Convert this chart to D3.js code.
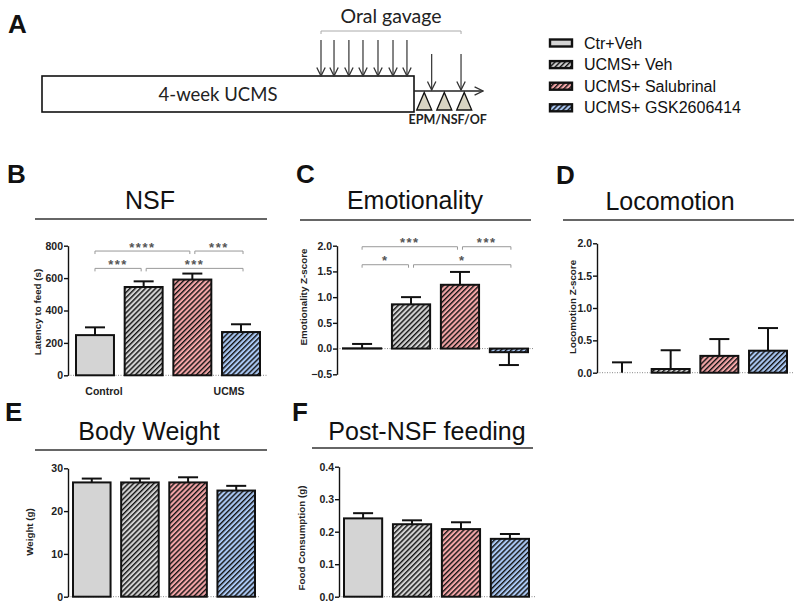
<!DOCTYPE html>
<html><head><meta charset="utf-8">
<script src="https://cdn.jsdelivr.net/npm/d3@7"></script>
<style>body{margin:0;background:#fff}svg{display:block}</style>
</head><body><svg id="c" width="800" height="607"></svg>
<script>
// ---------- DATA ----------
const groups = ["Ctr+Veh", "UCMS+ Veh", "UCMS+ Salubrinal", "UCMS+ GSK2606414"];
const xGroupLabels = ["Control", "UCMS"];

const nsfMean  = [248, 545, 591, 267];
const nsfSem   = [48, 35, 37, 48];
const nsfTicks = [0, 200, 400, 600, 800];
const nsfSig   = [
  {from: 0, to: 2, label: "****", y: 767},
  {from: 2, to: 3, label: "***",  y: 767},
  {from: 0, to: 1, label: "***",  y: 660},
  {from: 1, to: 3, label: "***",  y: 660}
];

const emoMean  = [0.005, 0.86, 1.24, -0.07];
const emoSem   = [0.085, 0.14, 0.25, 0.25];
const emoTicks = [-0.5, 0.0, 0.5, 1.0, 1.5, 2.0];
const emoSig   = [
  {from: 0, to: 2, label: "***", y: 1.98},
  {from: 2, to: 3, label: "***", y: 1.98},
  {from: 0, to: 1, label: "*",   y: 1.63},
  {from: 1, to: 3, label: "*",   y: 1.63}
];

const locoMean  = [0, 0.057, 0.26, 0.34];
const locoSem   = [0.16, 0.29, 0.26, 0.35];
const locoTicks = [0.0, 0.5, 1.0, 1.5, 2.0];

const bwMean  = [26.7, 26.7, 26.7, 24.8];
const bwSem   = [0.9, 0.9, 1.2, 1.1];
const bwTicks = [0, 10, 20, 30];

const foodMean  = [0.241, 0.223, 0.208, 0.178];
const foodSem   = [0.016, 0.012, 0.021, 0.015];
const foodTicks = [0.0, 0.1, 0.2, 0.3, 0.4];

// timeline (days) for panel A
const ucmsDays = [0, 28];
const gavageDays = [21.0, 21.98, 23.1, 24.16, 25.29, 26.42, 27.47];
const lateGavageDays = [29.33, 31.54];
const testDays = [28.77, 30.28, 31.78];
const timelineEnd = 33.2;

// ---------- STYLE ----------
const svg = d3.select("#c");
const SANS = "'Liberation Sans', Arial, Helvetica, sans-serif";
const CAL = "Lato, 'Open Sans', sans-serif";
const bg = ["#d4d4d4", "#d2d2d2", "#f3a5a7", "#a9c7f3"];
const hatched = [false, true, true, true];

const defs = svg.append("defs");
bg.forEach((c, i) => {
  const p = defs.append("pattern").attr("id", "h" + i)
    .attr("patternUnits", "userSpaceOnUse").attr("width", 3.6).attr("height", 10)
    .attr("patternTransform", "rotate(45)");
  p.append("rect").attr("width", 3.6).attr("height", 10).attr("fill", c);
  if (hatched[i]) p.append("rect").attr("x", 0).attr("width", 1.4).attr("height", 10).attr("fill", "#111");
});
const fillOf = i => `url(#h${i})`;

defs.append("marker").attr("id", "arr").attr("viewBox", "0 0 10 10")
  .attr("refX", 9.5).attr("refY", 5).attr("markerWidth", 10).attr("markerHeight", 10)
  .attr("markerUnits", "userSpaceOnUse").attr("orient", "auto")
  .append("path").attr("d", "M1,0.8 L9.5,5 L1,9.2").attr("fill", "none")
  .attr("stroke", "#333").attr("stroke-width", 1.3);

function letter(t, x, y) {
  svg.append("text").attr("x", x).attr("y", y).text(t)
    .attr("font-family", SANS).attr("font-weight", "bold").attr("font-size", 26).attr("fill", "#111");
}

// ---------- PANEL A ----------
letter("A", 8, 33);
const tl = d3.scaleLinear().domain(ucmsDays).range([42, 414]);
const gA = svg.append("g");
gA.append("rect").attr("x", tl(ucmsDays[0])).attr("y", 76)
  .attr("width", tl(ucmsDays[1]) - tl(ucmsDays[0])).attr("height", 36)
  .attr("fill", "#fff").attr("stroke", "#111").attr("stroke-width", 1.6);
gA.append("text").attr("x", (tl(ucmsDays[0]) + tl(ucmsDays[1])) / 2 - 10).attr("y", 101)
  .attr("text-anchor", "middle").attr("font-family", CAL).attr("font-size", 18.5)
  .attr("fill", "#222").text("4-week UCMS");
gA.append("line").attr("x1", tl(ucmsDays[1])).attr("x2", tl(timelineEnd))
  .attr("y1", 91).attr("y2", 91).attr("stroke", "#222").attr("stroke-width", 1.6)
  .attr("marker-end", "url(#arr)");
gavageDays.forEach(d => {
  gA.append("line").attr("x1", tl(d)).attr("x2", tl(d)).attr("y1", 40).attr("y2", 76)
    .attr("stroke", "#333").attr("stroke-width", 1.2).attr("marker-end", "url(#arr)");
});
lateGavageDays.forEach(d => {
  gA.append("line").attr("x1", tl(d)).attr("x2", tl(d)).attr("y1", 54).attr("y2", 90)
    .attr("stroke", "#333").attr("stroke-width", 1.2).attr("marker-end", "url(#arr)");
});
testDays.forEach(d => {
  const cx = tl(d);
  gA.append("path").attr("d", `M${cx - 7.5},110 L${cx},92.5 L${cx + 7.5},110 Z`)
    .attr("fill", "#d8d4c2").attr("stroke", "#111").attr("stroke-width", 1.3);
});
const b0 = tl(gavageDays[0]), b1 = tl(lateGavageDays[lateGavageDays.length - 1]);
gA.append("path").attr("d", `M${b0},34 L${b0},31 L${b1},31 L${b1},34`)
  .attr("fill", "none").attr("stroke", "#aaa").attr("stroke-width", 1);
gA.append("text").attr("x", (b0 + b1) / 2).attr("y", 23).attr("text-anchor", "middle")
  .attr("font-family", CAL).attr("font-size", 19.5).attr("fill", "#222").text("Oral gavage");
gA.append("text").attr("x", (tl(testDays[0]) + tl(testDays[2])) / 2 + 3.5).attr("y", 124)
  .attr("text-anchor", "middle").attr("font-family", CAL).attr("font-weight", "bold")
  .attr("font-size", 12.5).attr("fill", "#222").text("EPM/NSF/OF");

// ---------- LEGEND ----------
const lg = svg.append("g");
groups.forEach((name, i) => {
  const yc = 43 + i * 21.6;
  lg.append("rect").attr("x", 550).attr("y", yc - 3.5).attr("width", 22).attr("height", 7)
    .attr("fill", fillOf(i)).attr("stroke", "#111").attr("stroke-width", 2.4);
  lg.append("text").attr("x", 584).attr("y", yc + 5.5).attr("font-family", SANS)
    .attr("font-size", 16).attr("fill", "#111").text(name);
});

// ---------- BAR PANELS ----------
function panel(cfg, mean, sem, ticks, fmt, sig) {
  const g = svg.append("g");
  letter(cfg.letter, cfg.lx, cfg.ly);
  g.append("text").attr("x", cfg.tx).attr("y", cfg.ty).attr("text-anchor", "middle")
    .attr("font-family", SANS).attr("font-size", 25).attr("fill", "#111").text(cfg.title);
  g.append("line").attr("x1", cfg.line[0]).attr("x2", cfg.line[1]).attr("y1", cfg.line[2]).attr("y2", cfg.line[2])
    .attr("stroke", "#333").attr("stroke-width", 1.3);

  const x = d3.scaleBand().domain(groups).range([cfg.bx0, cfg.bx1]).paddingInner(0.22).paddingOuter(0);
  const y = d3.scaleLinear().domain([ticks[0], ticks[ticks.length - 1]]).range([cfg.ybot, cfg.ytop]);

  g.append("line").attr("x1", cfg.ax).attr("x2", cfg.dotEnd).attr("y1", y(0)).attr("y2", y(0))
    .attr("stroke", "#888").attr("stroke-width", 1).attr("stroke-dasharray", "1,1.5");

  const bw = x.bandwidth();
  groups.forEach((gn, i) => {
    const v = mean[i];
    const cx = x(gn) + bw / 2;
    const ey = v >= 0 ? v + sem[i] : v - sem[i];
    g.append("line").attr("x1", cx).attr("x2", cx).attr("y1", y(v)).attr("y2", y(ey))
      .attr("stroke", "#111").attr("stroke-width", 2);
    g.append("line").attr("x1", cx - 10).attr("x2", cx + 10).attr("y1", y(ey)).attr("y2", y(ey))
      .attr("stroke", "#111").attr("stroke-width", 2);
    if (v !== 0) {
      g.append("rect").attr("x", x(gn)).attr("y", y(Math.max(v, 0)))
        .attr("width", bw).attr("height", Math.abs(y(v) - y(0)))
        .attr("fill", fillOf(i)).attr("stroke", "#111").attr("stroke-width", 2);
    }
  });

  const ax = g.append("g").attr("transform", `translate(${cfg.ax},0)`)
    .call(d3.axisLeft(y).tickValues(ticks).tickFormat(fmt).tickSize(4).tickSizeOuter(0).tickPadding(1));
  ax.select(".domain").attr("stroke", "#111").attr("stroke-width", 1.4);
  ax.selectAll(".tick line").attr("stroke", "#111").attr("stroke-width", 1.4);
  ax.selectAll(".tick text").attr("font-family", SANS).attr("font-weight", "bold")
    .attr("font-size", 10.5).attr("fill", "#222");

  g.append("text").attr("transform", `translate(${cfg.ylx},${cfg.yly}) rotate(-90)`)
    .attr("text-anchor", "middle").attr("font-family", SANS).attr("font-weight", "bold")
    .attr("font-size", 9.8).attr("fill", "#222").text(cfg.ylabel);

  if (sig) {
    sig.forEach(s => {
      const x1 = x(groups[s.from]) + bw / 2 + (s.from > 0 ? 2.5 : 0);
      const x2 = x(groups[s.to]) + bw / 2 - (s.to < groups.length - 1 ? 2.5 : -2);
      const yy = y(s.y);
      g.append("path").attr("d", `M${x1},${yy + 3} L${x1},${yy} L${x2},${yy} L${x2},${yy + 3}`)
        .attr("fill", "none").attr("stroke", "#999").attr("stroke-width", 1);
      g.append("text").attr("x", (x1 + x2) / 2).attr("y", yy + 0.5).attr("text-anchor", "middle")
        .attr("font-family", SANS).attr("font-weight", "bold").attr("font-size", 13)
        .attr("letter-spacing", 1.5).attr("fill", "#555").text(s.label);
    });
  }
  return {x, y, g};
}

const fInt = d3.format("d"), f1 = d3.format(".1f");

const pB = panel({letter: "B", lx: 7, ly: 183, title: "NSF", tx: 150, ty: 209, line: [35, 267, 219],
  bx0: 76, bx1: 260, ybot: 375.3, ytop: 245.7, ax: 68, dotEnd: 267,
  ylabel: "Latency to feed (s)", ylx: 41, yly: 312}, nsfMean, nsfSem, nsfTicks, fInt, nsfSig);
pB.g.append("text").attr("x", pB.x(groups[0]) + pB.x.bandwidth() / 2 + 9).attr("y", 395)
  .attr("text-anchor", "middle").attr("font-family", SANS).attr("font-weight", "bold")
  .attr("font-size", 10.5).attr("fill", "#222").text(xGroupLabels[0]);
pB.g.append("text").attr("x", pB.x(groups[3]) + pB.x.bandwidth() / 2 - 12).attr("y", 395)
  .attr("text-anchor", "middle").attr("font-family", SANS).attr("font-weight", "bold")
  .attr("font-size", 10.5).attr("fill", "#222").text(xGroupLabels[1]);

panel({letter: "C", lx: 296, ly: 183, title: "Emotionality", tx: 415, ty: 209, line: [300, 531, 220],
  bx0: 343, bx1: 528, ybot: 374.3, ytop: 245.7, ax: 337, dotEnd: 534,
  ylabel: "Emotionality Z-score", ylx: 307, yly: 297}, emoMean, emoSem, emoTicks, f1, emoSig);

panel({letter: "D", lx: 556, ly: 184, title: "Locomotion", tx: 670, ty: 210, line: [563, 794, 220],
  bx0: 603, bx1: 787, ybot: 372.7, ytop: 243.3, ax: 597, dotEnd: 793,
  ylabel: "Locomotion Z-score", ylx: 576, yly: 307}, locoMean, locoSem, locoTicks, f1, null);

panel({letter: "E", lx: 5, ly: 421, title: "Body Weight", tx: 149, ty: 440, line: [35, 267, 450],
  bx0: 73, bx1: 255, ybot: 596.7, ytop: 468.3, ax: 68, dotEnd: 260,
  ylabel: "Weight (g)", ylx: 33, yly: 532}, bwMean, bwSem, bwTicks, fInt, null);

panel({letter: "F", lx: 292, ly: 421, title: "Post-NSF feeding", tx: 427, ty: 440, line: [312, 533, 448],
  bx0: 344, bx1: 529, ybot: 596.7, ytop: 466.7, ax: 339, dotEnd: 535,
  ylabel: "Food Consumption (g)", ylx: 305, yly: 538}, foodMean, foodSem, foodTicks, f1, null);
</script>
</body></html>
